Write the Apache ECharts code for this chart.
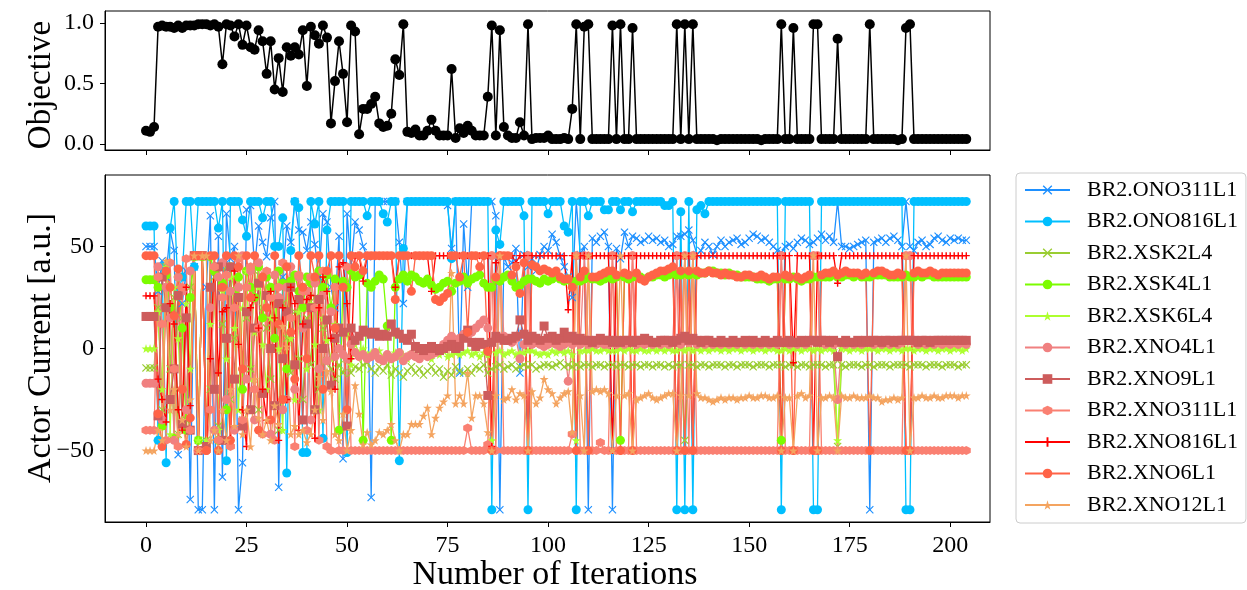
<!DOCTYPE html>
<html>
<head>
<meta charset="utf-8">
<script src="https://cdn.jsdelivr.net/npm/echarts@6/dist/echarts.min.js"></script>
<style>
html,body{margin:0;padding:0;background:#fff;}
#chart{width:1247px;height:590px;}
</style>
</head>
<body>
<div id="chart"></div>
<script>
// ---------------- DATA ----------------
const X_TICKS = [0, 25, 50, 75, 100, 125, 150, 175, 200];
const OBJ_TICKS = [0, 0.5, 1.0];
const CUR_TICKS = [-50, 0, 50];

const SERIES_NAMES = ['BR2.ONO311L1','BR2.ONO816L1','BR2.XSK2L4','BR2.XSK4L1','BR2.XSK6L4','BR2.XNO4L1','BR2.XNO9L1','BR2.XNO311L1','BR2.XNO816L1','BR2.XNO6L1','BR2.XNO12L1'];

const objective = [
0.11,0.10,0.14,0.97,0.98,0.97,0.97,0.96,0.98,0.96,
0.98,0.98,0.98,0.99,0.99,0.99,0.98,0.99,0.97,0.66,
0.99,0.98,0.89,0.99,0.82,0.98,0.80,0.78,0.94,0.85,
0.58,0.85,0.45,0.71,0.43,0.80,0.73,0.80,0.74,0.94,
0.48,0.97,0.90,0.83,0.98,0.88,0.17,0.52,0.85,0.58,
0.18,0.98,0.93,0.08,0.29,0.29,0.33,0.39,0.17,0.14,
0.15,0.25,0.70,0.57,0.99,0.10,0.09,0.12,0.07,0.07,
0.11,0.20,0.11,0.07,0.07,0.07,0.62,0.05,0.13,0.09,
0.15,0.11,0.07,0.07,0.07,0.39,0.98,0.07,0.94,0.14,
0.07,0.05,0.05,0.18,0.07,0.99,0.04,0.05,0.05,0.05,
0.07,0.04,0.04,0.04,0.05,0.04,0.29,0.99,0.04,0.97,
0.99,0.04,0.04,0.04,0.04,0.04,0.98,0.04,0.99,0.04,
0.04,0.96,0.04,0.04,0.04,0.04,0.04,0.04,0.04,0.04,
0.04,0.04,0.99,0.04,0.99,0.04,0.99,0.04,0.04,0.04,
0.04,0.04,0.03,0.04,0.04,0.04,0.04,0.04,0.04,0.04,
0.04,0.04,0.04,0.03,0.04,0.04,0.04,0.04,0.99,0.04,
0.04,0.96,0.04,0.04,0.04,0.04,0.99,0.99,0.04,0.04,
0.04,0.04,0.87,0.04,0.04,0.04,0.04,0.04,0.04,0.04,
0.99,0.04,0.04,0.04,0.04,0.04,0.04,0.03,0.04,0.96,
0.99,0.04,0.04,0.04,0.04,0.04,0.04,0.04,0.04,0.04,
0.04,0.04,0.04,0.04,0.04];

const ono311 = [
50,50,50,28,43,35,58,48,-52,22,
38,-74,40,-79,-79,30,65,-79,55,-63,
66,44,50,-79,-56,68,70,40,60,52,
45,64,72,-68,35,60,52,72,58,57,
48,62,51,35,66,62,30,20,55,-54,
66,40,62,58,50,45,-73,72,72,72,
72,72,72,52,22,72,72,72,72,72,
72,72,72,72,72,70,49,72,-12,61,
30,72,72,72,72,72,72,65,-79,45,
40,42,49,-12,46,40,44,38,46,50,
48,56,52,45,40,35,25,72,46,50,
-79,54,52,55,57,50,-79,49,44,57,
50,55,54,52,53,55,53,54,52,53,
50,51,55,55,56,58,53,46,48,52,
50,46,50,53,50,52,53,54,51,52,
54,56,55,53,54,52,50,48,47,50,
51,49,52,54,53,51,52,54,56,53,
55,52,72,50,50,49,50,51,52,53,
-79,52,53,54,52,54,55,53,50,72,
50,48,52,53,50,51,54,55,53,52,
54,53,54,53,53];

const ono816 = [
60,60,60,-45,40,-56,59,72,27,35,
72,72,40,72,72,72,72,72,59,72,
-55,72,72,72,63,55,72,72,72,64,
72,72,50,50,64,-61,48,72,69,-51,
-51,72,61,72,-44,58,72,72,72,72,
-51,72,72,72,72,65,72,72,72,66,
62,72,72,-55,49,72,72,72,72,72,
72,72,72,72,72,72,44,72,72,72,
72,72,72,72,72,72,-79,58,51,72,
72,72,72,72,65,-79,72,72,72,72,
66,72,72,72,60,57,72,-79,72,72,
65,72,72,72,68,68,72,72,68,72,
72,67,72,72,72,72,72,72,72,70,
70,72,-79,67,-79,72,-79,68,70,66,
72,72,72,72,72,72,72,72,72,72,
72,72,72,72,72,72,72,72,-79,72,
72,72,72,72,72,72,-79,-79,72,72,
72,72,72,72,72,72,72,72,72,72,
72,72,72,72,72,72,72,72,72,-79,
-79,72,72,72,72,72,72,72,72,72,
72,72,72,72,72];

const xsk2 = [
-9.5,-9.5,-9.5,20,-30,40,-10,25,-42,15,
-35,30,45,-45,45,-45,-20,35,-38,12,
40,-25,5,30,-35,15,-10,38,-30,20,
10,-15,30,-40,22,5,-12,18,-5,-25,
15,-8,25,-20,10,-6,-10,-15,-8,-12,
-5,-12,-9,-10,-8,-7,-10,-12,-9,-11,
-8,-13,-10,-12,-14,-11,-9,-12,-10,-13,
-11,-9,-12,-10,-14,-11,-13,-9,-11,-12,
-10,-12,-9,-10,-8,-12,-10,-9,-8,-10,
-9,-8,-10,-9,-8,-9,-8,-10,-9,-8,
-8,-9,-8,-7,-9,-8,-9,-8,-9,-8,
-8,-9,-8,-8,-9,-8,-8,-9,-8,-8,
-9,-8,-8,-9,-8,-8,-9,-8,-8,-9,
-8,-9,-8,-8,-45,-8,-8,-9,-8,-8,
-9,-8,-8,-8,-9,-8,-8,-9,-8,-8,
-8,-9,-8,-8,-8,-9,-8,-8,-8,-9,
-8,-8,-9,-8,-8,-9,-8,-8,-8,-9,
-8,-8,-48,-8,-9,-8,-8,-8,-9,-8,
-8,-9,-8,-8,-8,-9,-8,-8,-8,-8,
-9,-8,-8,-8,-9,-8,-8,-8,-9,-8,
-8,-8,-9,-8,-8];

const xsk4 = [
33.7,33.7,33.7,30,-38,36,20,-44,35,10,
-40,25,45,-45,45,-48,45,38,-45,32,
-30,40,28,35,-20,38,30,25,40,15,
35,30,5,38,32,-10,33,36,28,20,
35,32,-30,38,30,36,20,34,-40,33,
30,38,35,36,-45,32,30,33,36,34,
11,-45,30,34,36,33,36,35,33,32,
34,31,29,30,32,33,28,32,33,35,
32,34,35,36,32,30,30,34,33,35,
36,33,30,31,33,34,34,33,32,34,
33,34,35,34,33,34,32,33,33,34,
35,34,34,33,34,35,34,35,-45,35,
34,35,36,35,34,35,35,36,36,35,
36,37,36,36,37,36,37,36,37,37,
38,38,37,37,36,37,36,36,35,35,
35,35,34,34,34,33,34,34,-45,34,
34,35,34,33,34,34,35,35,35,35,
35,36,35,35,36,36,35,36,35,35,
35,36,36,36,36,35,35,35,35,36,
35,35,36,35,36,36,35,35,35,35,
35,35,35,35,35];

const xsk6 = [
0,0,0,18,-20,40,-42,30,5,-35,
22,-10,45,-45,45,-45,12,40,-40,28,
-5,35,10,-30,20,38,-15,8,30,2,
-20,15,25,0,-40,30,5,-25,18,10,
-10,22,2,-30,15,4,-5,12,0,-3,
8,-8,2,-2,0,-3,-2,-3,-1,-4,
-3,-4,-2,-4,-3,-5,-2,-3,-4,-2,
-3,-5,-2,-3,-1,-4,-3,-2,-3,-2,
-1,-3,-2,-4,-2,-3,-45,-2,-1,-3,
-2,-1,-3,-2,-2,-1,-1,-2,-3,-2,
-3,-1,-2,-1,-2,-1,-3,-45,-1,-1,
-1,0,-1,-1,0,-1,-1,-1,0,-1,
0,-1,-1,0,-1,-1,0,-1,0,-1,
0,-1,-1,0,-1,0,-1,0,-1,0,
-1,0,0,-1,0,-1,0,0,-1,0,
0,-1,0,0,-1,0,0,-1,-1,0,
-1,0,0,-1,0,0,-1,0,-1,0,
0,-1,-45,0,0,-1,0,0,-1,0,
0,0,-1,0,0,-1,0,0,-1,0,
0,-1,0,0,-1,0,0,-1,0,0,
-1,0,0,-1,0];

const xno4 = [
-17,-17,-17,40,-35,30,15,-45,35,28,
-30,38,45.5,-50,45.5,-50,20,-40,35,42,
-25,28,-40,30,45.5,-15,38,-35,42,35,
20,-42,36,25,-30,30,40,-20,35,10,
28,-35,32,-10,26,-6,18,-4,0,-3,
-5,2,-2,-4,-3,-5,-4,-2,-5,-6,
-3,-5,-4,-2,-6,-4,-3,-4,-5,-3,
-4,-3,-2,0,2,4,6,3,5,7,
6,8,10,12,14,10,45.5,5,45.5,6,
4,3,5,-5,2,45.5,2,3,2,1,
2,3,2,1,2,-16,2,45.5,2,45.5,
2,3,2,3,2,2,45.5,2,3,2,
3,45.5,2,3,2,3,2,3,2,3,
2,3,45.5,2,45.5,3,45.5,2,3,2,
3,2,3,2,3,2,3,2,3,2,
3,2,3,2,3,2,3,2,45.5,3,
2,3,2,3,2,3,45.5,45.5,3,2,
3,2,-25,3,2,3,2,3,2,3,
3,2,3,2,3,2,3,2,3,45.5,
45.5,3,2,3,2,3,2,3,2,3,
2,3,2,3,2];

const xno9 = [
15.7,15.7,15.7,-33,35,20,-25,-10,26,-37,
15,-40,45.5,-50,45.5,-48,30,-20,40,-45,
5,40,-15,25,-38,18,-30,10,32,-22,
26,0,-28,22,-5,18,30,-8,24,-35,
12,20,-30,24,0,14,-18,5,10,8,
-38,10,4,6,9,8,7,8,6,7,
6,12,8,7,5,4,7,1,0,-1,
0,1,0,-1,0,1,2,0,1,5,
9,3,1,3,2,-23,3,6,5,4,
4,5,6,14,7,4,6,5,4,11,
5,6,4,5,8,5,6,4,5,4,
4,3,4,5,4,4,3,4,3,4,
4,3,4,4,5,4,3,3,4,4,
4,3,4,5,6,4,5,4,3,4,
4,3,3,4,3,3,4,3,3,4,
3,4,3,3,4,3,3,4,3,3,
4,3,3,4,3,4,4,3,4,4,
3,4,-4,3,4,3,3,4,3,4,
3,4,4,3,4,4,3,4,4,4,
4,4,3,4,4,3,4,4,4,4,
4,4,4,4,4];

const xno311 = [
-40,-40,-40,35,12,-45,42,-10,-48,30,
44,-40,45.5,-50,45.5,-50,-30,40,-45,25,
36,-48,20,44,-35,30,40,-20,10,-42,
38,25,-45,30,42,-25,15,-48,36,28,
-40,35,20,-45,38,-48,-50,30,-50,-50,
40,-50,-50,-50,-50,-50,-50,-50,-50,-50,
-50,-50,-50,-50,-50,-50,-50,-50,-50,-50,
-50,-50,-50,-50,-50,-50,-50,-50,-50,-50,
-39,-50,-50,-50,-50,-47,45.5,-50,45.5,-50,
-50,-50,-50,-50,-50,45.5,-50,-50,-50,-50,
-50,-50,-50,-50,-50,-50,-42,45.5,-50,-50,
45.5,-50,-50,-46,-50,-50,45.5,-50,-50,-50,
-50,45.5,-50,-50,-50,-50,-50,-50,-50,-50,
-50,-50,45.5,-50,45.5,-50,45.5,-50,-50,-50,
-50,-50,-50,-50,-50,-50,-50,-50,-50,-50,
-50,-50,-50,-50,-50,-50,-50,-50,45.5,-50,
-50,-50,-50,-50,-50,-50,45.5,45.5,-50,-50,
-50,-50,-50,-50,-50,-50,-50,-50,-50,-50,
-50,-50,-50,-50,-50,-50,-50,-50,-50,45.5,
45.5,-50,-50,-50,-50,-50,-50,-50,-50,-50,
-50,-50,-50,-50,-50];

const xno816 = [
25.8,25.8,25.8,-15,-25,-36,22,12,-30,-40,
30,-28,45.5,-50,45.5,-50,-5,45.5,-12,18,
20,-44,38,2,-30,-48,20,25,10,-20,
-35,28,15,-45,20,-25,30,22,-40,12,
24,26,-44,20,35,28,5,-20,40,42,
22,-5,45.5,45.5,33,45.5,45.5,45.5,45.5,45.5,
45.5,45.5,30,45.5,45.5,45.5,45.5,45.5,45.5,45.5,
45.5,28,45.5,45.5,45.5,45.5,45.5,45.5,45.5,45.5,
45.5,45.5,45.5,45.5,45.5,45.5,-48,42,45.5,45.5,
45.5,45.5,42,45.5,45.5,-50,45.5,45.5,45.5,45.5,
45.5,45.5,45.5,45.5,45.5,19,45.5,-50,45.5,45.5,
45.5,45.5,45.5,45.5,45.5,45.5,-50,45.5,45.5,45.5,
45.5,-50,45.5,45.5,45.5,45.5,45.5,45.5,45.5,45.5,
45.5,45.5,-50,45.5,45.5,45.5,-50,45.5,45.5,45.5,
45.5,45.5,45.5,45.5,45.5,45.5,45.5,45.5,45.5,45.5,
45.5,45.5,45.5,45.5,45.5,45.5,45.5,45.5,-50,45.5,
45.5,-7,45.5,45.5,45.5,45.5,-50,45.5,45.5,45.5,
45.5,45.5,32,45.5,45.5,45.5,45.5,45.5,45.5,45.5,
45.5,45.5,45.5,45.5,45.5,45.5,45.5,45.5,45.5,-50,
-50,45.5,45.5,45.5,45.5,45.5,45.5,45.5,45.5,45.5,
45.5,45.5,45.5,45.5,45.5];

const xno6 = [
45.5,45.5,45.5,-32,-48,38,30,16,39,-20,
-47,-34,45.5,45.5,45.5,-50,45.5,45.5,-50,30,
45.5,-45,45.5,40,-10,45.5,25,45.5,-40,35,
20,-35,45.5,12,-25,40,8,-15,45.5,30,
-5,45.5,35,45.5,-20,38,45.5,10,45.5,30,
-30,45.5,40,45.5,38,45.5,45.5,45.5,45.5,45.5,
45.5,45.5,24,45.5,45.5,45.5,28,45.5,45.5,45.5,
45.5,45.5,24,23,25,27,45.5,45.5,35,45.5,
8,45.5,45.5,40,45.5,-1.5,-50,35,45.5,45.5,
45.5,36,40,27,42,-50,41,40,38,39,
38,37,38,35,34,34,30,-50,35,38,
-50,35,35,36,37,38,38,36,-50,37,
36,-50,37,34,33,35,36,37,38,38,
39,40,-50,38,-50,38,-50,38,37,37,
38,37,37,36,37,36,36,35,35,36,
36,35,35,36,35,34,35,35,-50,36,
35,-50,35,34,35,36,-50,-50,36,37,
37,38,36,37,38,37,37,37,36,37,
-50,37,38,38,37,36,36,37,36,-50,
-50,37,38,37,37,38,37,36,37,37,
37,37,37,37,37];

const xno12 = [
-50,-50,-50,-40,-45,43,-30,-20,-42,-35,
-48,-25,45.5,-50,45.5,45.5,-45,-40,-50,-30,
-45,-20,-38,45.5,-42,-30,-48,-15,-34,-42,
-35,-45,-28,-37,11,1,-42,-38,-42,-40,
-46,-42,-30,-14,-35,-11,-21,-42,-45,-32,
-50,-40,-18,-32,-47,-41,-47,-45,-41,-42,
-40,-37,-45,-50,-42,-42,-37,-37,-37,-33,
-29,-42,-34,-29,-26,-23,37,-27,-23,-27,
-12,-34,-23,-23,-27,-41,-50,-23,45.5,-25,
-24,-20,-25,-22,-23,-50,-21,-27,-24,-15,
-20,-22,-27,-24,-22,-21,-41,45.5,-23,-50,
45.5,-21,-20,-21,-20,-22,-50,-23,45.5,-23,
-22,-50,-25,-24,-23,-22,-24,-25,-24,-23,
-22,-22,-50,-23,45.5,-23,45.5,-22,-24,-24,
-25,-26,-25,-24,-25,-24,-24,-25,-24,-24,
-23,-24,-24,-23,-23,-24,-24,-23,-50,-24,
-24,-50,-23,-22,-24,-23,45.5,-50,-24,-24,
-23,-24,-50,-23,-24,-24,-23,-24,-24,-24,
-23,-24,-24,-26,-25,-25,-24,-25,-24,45.5,
-50,-24,-24,-23,-24,-24,-23,-24,-24,-23,
-23,-23,-24,-23,-23];

const CURRENTS = [ono311, ono816, xsk2, xsk4, xsk6, xno4, xno9, xno311, xno816, xno6, xno12];

// ---------------- STYLE ----------------
const FONT = '"Liberation Serif","DejaVu Serif",serif';
const SYM_X = 'path://M0,2 L2,0 L10,8 L18,0 L20,2 L12,10 L20,18 L18,20 L10,12 L2,20 L0,18 L8,10 Z';
const SYM_STAR = 'path://M50,0 L61,35 L98,35 L68,57 L79,91 L50,70 L21,91 L32,57 L2,35 L39,35 Z';
const SYM_HEX = 'path://M50,0 L93,25 L93,75 L50,100 L7,75 L7,25 Z';
const SYM_PLUS = 'path://M8,0 L12,0 L12,8 L20,8 L20,12 L12,12 L12,20 L8,20 L8,12 L0,12 L0,8 L8,8 Z';
const STYLES = [
  {color:'#1E90FF', symbol:SYM_X, size:8},
  {color:'#00BFFF', symbol:'circle', size:9},
  {color:'#9ACD32', symbol:SYM_X, size:8},
  {color:'#7CFC00', symbol:'circle', size:9},
  {color:'#ADFF2F', symbol:SYM_STAR, size:9},
  {color:'#F08080', symbol:'circle', size:9},
  {color:'#CD5C5C', symbol:'rect', size:9},
  {color:'#FA8072', symbol:SYM_HEX, size:9},
  {color:'#FF0000', symbol:SYM_PLUS, size:7},
  {color:'#FF6347', symbol:'circle', size:9},
  {color:'#F4A460', symbol:SYM_STAR, size:9}
];

const chart = echarts.init(document.getElementById('chart'), null, {renderer:'canvas'});

const axisLabelStyle = {fontFamily: FONT, fontSize: 24, color: '#000'};
function minusFmt(v){ return v < 0 ? '\u2212' + Math.abs(v) : String(v); }

const series = [{
  name: 'Objective', type: 'line', xAxisIndex: 0, yAxisIndex: 0,
  data: objective.map((v, i) => [i, v]),
  symbol: 'circle', symbolSize: 10,
  itemStyle: {color: '#000'}, lineStyle: {color: '#000', width: 1.5},
  animation: false, silent: true
}];
CURRENTS.forEach((arr, k) => {
  const st = STYLES[k];
  series.push({
    name: SERIES_NAMES[k], type: 'line', xAxisIndex: 1, yAxisIndex: 1,
    data: arr.map((v, i) => [i, v]),
    symbol: st.symbol, symbolSize: st.size,
    itemStyle: {color: st.color},
    lineStyle: {color: st.color, width: 1.3},
    animation: false, silent: true
  });
});

const xAxisBase = (gi, showLabel) => ({
  gridIndex: gi, type: 'value', min: -10.2, max: 209.9,
  axisLine: {show: true, onZero: false, lineStyle: {color: '#000', width: 1}},
  axisTick: {show: true, customValues: X_TICKS, length: 5, lineStyle: {color: '#000'}},
  axisLabel: {show: showLabel, customValues: X_TICKS, margin: 12, ...axisLabelStyle},
  splitLine: {show: false}
});

chart.setOption({
  backgroundColor: '#fff',
  animation: false,
  grid: [
    {left: 105, top: 11, width: 885, height: 139, show: true, borderColor: '#000', borderWidth: 1},
    {left: 105, top: 175, width: 885, height: 347, show: true, borderColor: '#000', borderWidth: 1}
  ],
  xAxis: [xAxisBase(0, false), xAxisBase(1, true)],
  yAxis: [
    {gridIndex: 0, type: 'value', min: -0.05, max: 1.1,
     axisLine: {show: true, onZero: false, lineStyle: {color: '#000'}},
     axisTick: {show: true, customValues: OBJ_TICKS, length: 5, lineStyle: {color: '#000'}},
     axisLabel: {customValues: OBJ_TICKS, margin: 11, formatter: v => v.toFixed(1), ...axisLabelStyle},
     splitLine: {show: false}},
    {gridIndex: 1, type: 'value', min: -85, max: 85,
     axisLine: {show: true, onZero: false, lineStyle: {color: '#000'}},
     axisTick: {show: true, customValues: CUR_TICKS, length: 5, lineStyle: {color: '#000'}},
     axisLabel: {customValues: CUR_TICKS, margin: 11, formatter: minusFmt, ...axisLabelStyle},
     splitLine: {show: false}}
  ],
  legend: {
    data: SERIES_NAMES, orient: 'vertical', left: 1016, top: 173,
    itemWidth: 45, itemHeight: 12, itemGap: 9.5,
    padding: [6, 8, 7, 8],
    borderColor: '#cccccc', borderWidth: 1, borderRadius: 4,
    textStyle: {fontFamily: FONT, fontSize: 22, color: '#000', padding: [0, 0, 0, 12]},
    selectedMode: false
  },
  graphic: [
    {type: 'text', x: 41, y: 85, rotation: Math.PI / 2,
     style: {text: 'Objective', font: '33px ' + FONT, fill: '#000', textAlign: 'center', textVerticalAlign: 'middle'}},
    {type: 'text', x: 41, y: 348, rotation: Math.PI / 2,
     style: {text: 'Actor Current [a.u.]', font: '34px ' + FONT, fill: '#000', textAlign: 'center', textVerticalAlign: 'middle'}},
    {type: 'text', x: 555, y: 575,
     style: {text: 'Number of Iterations', font: '34px ' + FONT, fill: '#000', textAlign: 'center', textVerticalAlign: 'middle'}}
  ],
  series: series
});
</script>
</body>
</html>
